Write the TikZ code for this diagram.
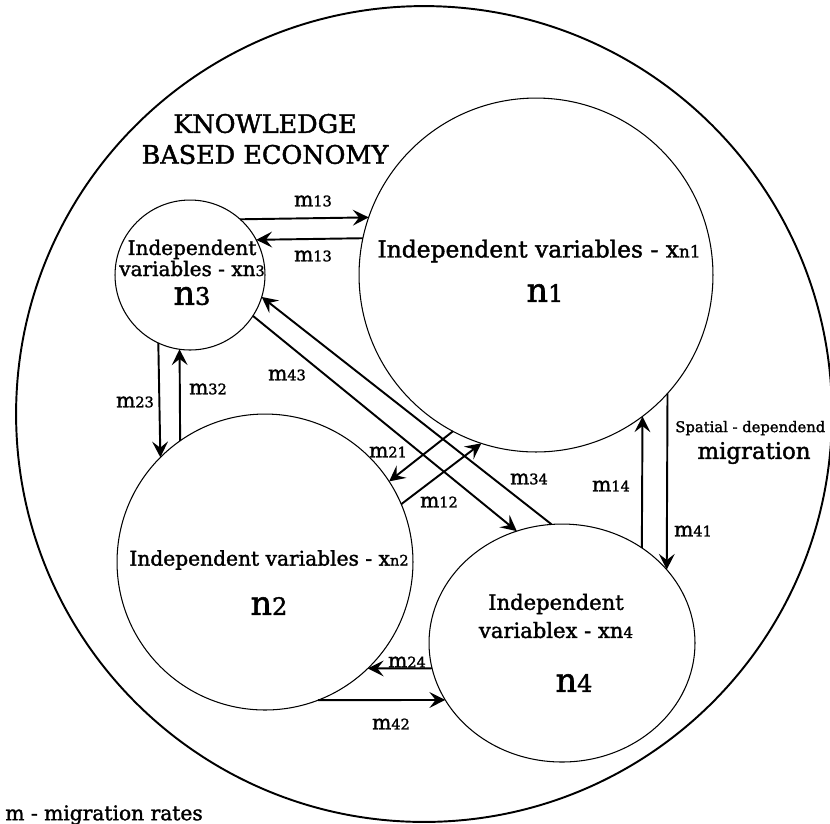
\documentclass[tikz,border=0pt]{standalone}
\usepackage{fontspec}
\setmainfont{DejaVu Serif}[RawFeature={embolden=1.6}]
\usetikzlibrary{arrows.meta}
\usetikzlibrary{shapes.geometric}
\newcommand{\osf}[1]{\scalebox{0.72}{#1}}

\begin{document}
\begin{tikzpicture}[x=0.02cm,y=-0.02cm,
  region/.style={circle,draw,line width=0.6pt,inner sep=0pt,outer sep=0pt},
  arr/.style={line width=1.1pt,-{Stealth[length=9pt,width=9pt,inset=3.5pt]}},
  rate/.style={font=\fontsize{11.5}{13}\selectfont,inner sep=1pt}]
\useasboundingbox (0,0) rectangle (830,823);

% the economy and the four regions
\node[circle,draw,line width=1.1pt,minimum size=16.32cm,inner sep=0pt] (kbe) at (424,414) {};
\node[region,minimum size=7.08cm] (n1) at (536,275) {};
\node[region,minimum size=5.92cm] (n2) at (265,562) {};
\node[region,minimum size=3cm] (n3) at (190,275) {};
\node[region,ellipse,minimum width=5.32cm,minimum height=4.76cm] (n4) at (562,643) {};

\node[font=\fontsize{14.5}{17.6}\selectfont,align=center] (kbetxt) at (265,139) {KNOWLEDGE\\BASED ECONOMY};

\node[font=\fontsize{13.3}{16}\selectfont] (t1) at (539,251) {Independent variables - x\osf{n1}};
\node[font=\fontsize{19}{20}\selectfont] (l1) at (545,293) {n\osf{1}};
\node[font=\fontsize{11.5}{12}\selectfont,align=center] (t2) at (269,560) {Independent variables - x\osf{n2}};
\node[font=\fontsize{19}{20}\selectfont] (l2) at (269,606) {n\osf{2}};
\node[font=\fontsize{11.4}{12}\selectfont,align=center,inner sep=0pt] (t3) at (192,258) {Independent\\variables - xn\osf{3}};
\node[font=\fontsize{19}{20}\selectfont,inner sep=0pt] (l3) at (192,296) {n\osf{3}};
\node[font=\fontsize{12}{16}\selectfont,align=center] (t4) at (556,616) {Independent\\variablex - xn\osf{4}};
\node[font=\fontsize{19}{20}\selectfont] (l4) at (574,683) {n\osf{4}};

% migration flows
\draw[arr] (n3.48.3) -- (n1.161.55);
\draw[arr] (n1.168.26) -- (n3.28.7);
\draw[arr] (n3.245.6) -- (n2.135.7);
\draw[arr] (n2.125.05) -- (n3.262.3);
\draw[arr] (n3.-33.7) -- (n4.112.3);
\draw[arr] (n4.95.4) -- (n3.-17.5);
\draw[arr] (n1.242.3) -- (n2.33.5);
\draw[arr] (n2.23.2) -- (n1.252.4);
\draw[arr] (n4.50.5) -- (n1.-53.6);
\draw[arr] (n1.-42.7) -- (n4.35.5);
\draw[arr] (n4.191.8) -- (n2.-46.9);
\draw[arr] (n2.-69.9) -- (n4.206.5);

\node[rate] (r13a) at (313,201) {m\osf{13}};
\node[rate] (r13b) at (313,256) {m\osf{13}};
\node[rate] (r23) at (135,402) {m\osf{23}};
\node[rate] (r32) at (208,389) {m\osf{32}};
\node[rate] (r43) at (287,375) {m\osf{43}};
\node[rate] (r21) at (388,452) {m\osf{21}};
\node[rate] (r12) at (439,502) {m\osf{12}};
\node[rate] (r34) at (529,479) {m\osf{34}};
\node[rate] (r14) at (611,486) {m\osf{14}};
\node[rate] (r41) at (693,531) {m\osf{41}};
\node[rate] (r24) at (407,662) {m\osf{24}};
\node[rate] (r42) at (391,724) {m\osf{42}};

\node[font=\fontsize{8.4}{10}\selectfont,anchor=west,inner sep=0pt] (spat) at (675,428) {Spatial - dependend};
\node[font=\fontsize{13}{14}\selectfont] (migr) at (754,453) {migration};

\node[font=\fontsize{11.5}{13}\selectfont,anchor=west,inner sep=0pt] (legend) at (5,815) {m - migration rates};
\end{tikzpicture}
\end{document}
